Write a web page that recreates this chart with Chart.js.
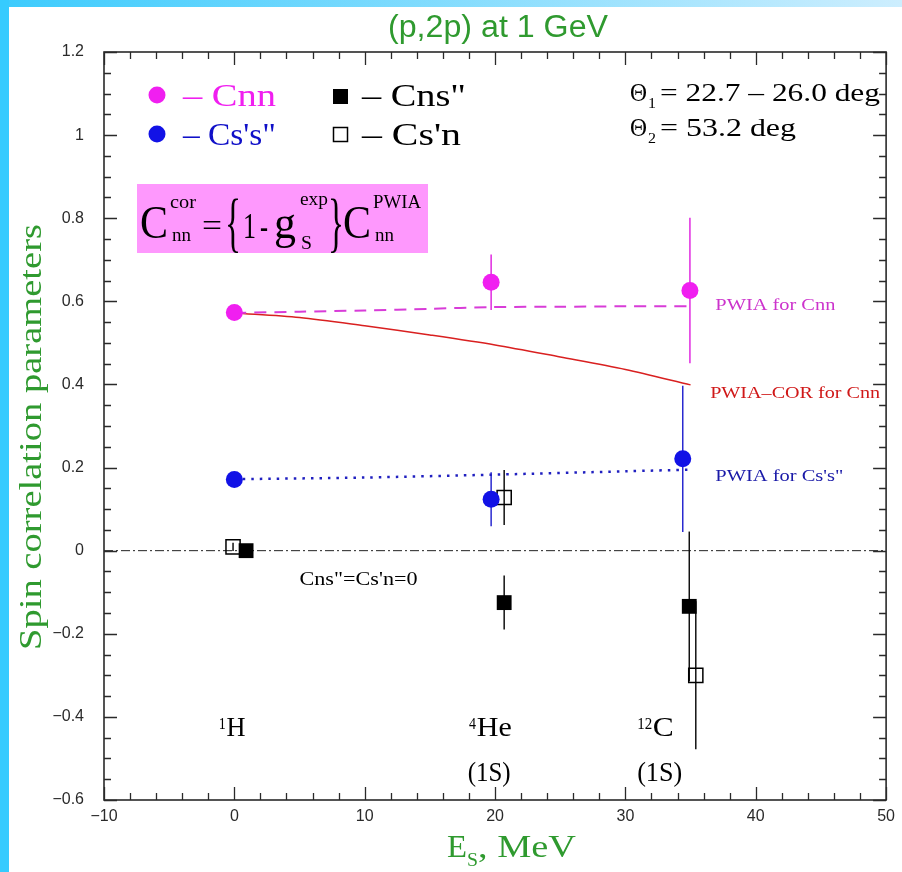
<!DOCTYPE html>
<html>
<head>
<meta charset="utf-8">
<title>(p,2p) at 1 GeV</title>
<script src="https://cdn.jsdelivr.net/npm/chart.js@4.4.0/dist/chart.umd.min.js"></script>
<style>
  html, body { margin: 0; padding: 0; background: #fff; }
  canvas { display: block; }
</style>
</head>
<body>
<canvas id="spinChart" width="902" height="872"></canvas>
<script>
// measured spin correlation parameters (x = separation energy, MeV)
const cnnX = [0, 19.7, 34.95];
const cnnY = [0.573, 0.646, 0.626];
const cnnErr = [0, 0.067, 0.175];

const cssX = [0, 19.7, 34.4];
const cssY = [0.171, 0.124, 0.221];
const cssErr = [0, 0.065, 0.176];

const cnsX = [0.9, 20.7, 34.9];
const cnsY = [0.0, -0.125, -0.134];
const cnsErr = [0, 0.065, 0.18];

const csnX = [-0.1, 20.7, 35.4];
const csnY = [0.009, 0.128, -0.300];
const csnErr = [0.01, 0.066, 0.178];

// PWIA curves
const pwiaCnnX = [0, 5, 10, 15, 19.7, 25, 30, 35];
const pwiaCnnY = [0.572, 0.575, 0.578, 0.582, 0.586, 0.587, 0.588, 0.588];
const corCnnX = [0, 5, 10, 15, 20, 25, 30, 35];
const corCnnY = [0.572, 0.561, 0.541, 0.519, 0.495, 0.466, 0.436, 0.399];
const pwiaCssX = [0, 10, 20, 30, 35];
const pwiaCssY = [0.172, 0.176, 0.183, 0.191, 0.195];

const xTicks = [-10, 0, 10, 20, 30, 40, 50];
const yTicks = [-0.6, -0.4, -0.2, 0, 0.2, 0.4, 0.6, 0.8, 1, 1.2];

const pts = (xs, ys) => xs.map((x, i) => ({ x: x, y: ys[i] }));

const SERIF = '"Liberation Serif", "Times New Roman", serif';
const SANS = '"Liberation Sans", Arial, sans-serif';
const GREEN = '#2f9a2f';
const MAGENTA = '#f01ff0';
const BLUE = '#1212e6';

function fmt(v) {
  const r = Math.round(v * 10) / 10;
  return String(r).replace('-', '\u2212');
}

// text helper; w stretches the string to a given width
function txt(ctx, s, x, y, size, color, opt) {
  opt = opt || {};
  ctx.save();
  ctx.font = (opt.weight || '') + ' ' + size + 'px ' + (opt.family || SERIF);
  ctx.fillStyle = color;
  ctx.textAlign = 'left';
  ctx.textBaseline = 'alphabetic';
  ctx.translate(x, y);
  if (opt.rot) ctx.rotate(opt.rot);
  const m = ctx.measureText(s).width;
  const sx = opt.w ? opt.w / m : 1;
  ctx.scale(sx, 1);
  ctx.fillText(s, 0, 0);
  ctx.restore();
}

const errorSets = { 3: cnnErr, 4: cssErr, 5: cnsErr, 6: csnErr };

const framePlugin = {
  id: 'frame',
  beforeDraw(chart) {
    const ctx = chart.ctx;
    ctx.save();
    ctx.fillStyle = '#ffffff';
    ctx.fillRect(0, 0, chart.width, chart.height);
    const g = ctx.createLinearGradient(0, 0, chart.width, 0);
    g.addColorStop(0, '#3ccbfd');
    g.addColorStop(1, '#cdeefe');
    ctx.fillStyle = g;
    ctx.fillRect(0, 0, chart.width, 7);
    ctx.fillStyle = '#36cbfe';
    ctx.fillRect(0, 0, 9, chart.height);
    ctx.restore();
  },
  beforeDatasetsDraw(chart) {
    const ctx = chart.ctx;
    const xs = chart.scales.x, ys = chart.scales.y;
    const a = chart.chartArea;
    ctx.save();
    // zero line
    ctx.strokeStyle = '#222';
    ctx.lineWidth = 1;
    ctx.setLineDash([9, 3, 2, 3]);
    const y0 = ys.getPixelForValue(0);
    ctx.beginPath();
    ctx.moveTo(a.left, y0);
    ctx.lineTo(a.right, y0);
    ctx.stroke();
    ctx.setLineDash([]);
    // error bars
    Object.keys(errorSets).forEach(k => {
      const ds = chart.data.datasets[k];
      const err = errorSets[k];
      ctx.strokeStyle = ds.errorColor;
      ctx.lineWidth = 1.5;
      ds.data.forEach((p, i) => {
        if (!err[i]) return;
        const px = xs.getPixelForValue(p.x);
        ctx.beginPath();
        ctx.moveTo(px, ys.getPixelForValue(p.y + err[i]));
        ctx.lineTo(px, ys.getPixelForValue(p.y - err[i]));
        ctx.stroke();
      });
    });
    ctx.restore();
  },
  afterDraw(chart) {
    const ctx = chart.ctx;
    const xs = chart.scales.x, ys = chart.scales.y;
    const a = chart.chartArea;
    ctx.save();
    ctx.strokeStyle = '#2a2a2a';
    ctx.lineWidth = 1.6;
    ctx.strokeRect(a.left, a.top, a.right - a.left, a.bottom - a.top);
    ctx.lineWidth = 1.3;
    ctx.beginPath();
    // inward ticks on all four sides
    for (let v = -10; v <= 50.001; v += 2) {
      const px = Math.round(xs.getPixelForValue(v)) + 0.5;
      const len = Math.abs(v % 10) < 0.01 ? 13 : 7;
      ctx.moveTo(px, a.bottom); ctx.lineTo(px, a.bottom - len);
      ctx.moveTo(px, a.top); ctx.lineTo(px, a.top + len);
    }
    for (let i = 0; i <= 36; i++) {
      const v = -0.6 + i * 0.05;
      const py = Math.round(ys.getPixelForValue(v)) + 0.5;
      const len = i % 4 === 0 ? 13 : 7;
      ctx.moveTo(a.left, py); ctx.lineTo(a.left + len, py);
      ctx.moveTo(a.right, py); ctx.lineTo(a.right - len, py);
    }
    ctx.stroke();
    ctx.restore();

    const X = v => xs.getPixelForValue(v);
    const Y = v => ys.getPixelForValue(v);

    // title and axis titles
    txt(ctx, '(p,2p) at 1 GeV', 388, 37, 31, GREEN, { family: SANS, w: 220 });
    txt(ctx, 'Spin correlation parameters', 41, 650, 31, GREEN, { rot: -Math.PI / 2, w: 426 });
    txt(ctx, 'E', 447, 857, 31, GREEN, { w: 20 });
    txt(ctx, 'S', 467, 866, 19, GREEN, { w: 11 });
    txt(ctx, ', MeV', 478, 857, 31, GREEN, { w: 98 });

    // legend
    ctx.save();
    ctx.fillStyle = MAGENTA;
    ctx.beginPath(); ctx.arc(157, 95, 8.5, 0, Math.PI * 2); ctx.fill();
    ctx.fillStyle = BLUE;
    ctx.beginPath(); ctx.arc(157, 134, 8.5, 0, Math.PI * 2); ctx.fill();
    ctx.fillStyle = '#000';
    ctx.fillRect(333, 89, 15, 15);
    ctx.strokeStyle = '#000';
    ctx.lineWidth = 1.5;
    ctx.strokeRect(333.5, 127.5, 14, 14);
    ctx.restore();
    txt(ctx, '\u2013 Cnn', 183, 106, 31, MAGENTA, { w: 93 });
    txt(ctx, '\u2013 Cs\'s"', 183, 145, 31, '#1010c8', { w: 93 });
    txt(ctx, '\u2013 Cns"', 362, 106, 31, '#000', { w: 104 });
    txt(ctx, '\u2013 Cs\'n', 362, 145, 31, '#000', { w: 99 });

    // angles
    txt(ctx, '\u0398', 630, 101, 25, '#000', { w: 17 });
    txt(ctx, '1', 648, 108, 15, '#000', { w: 8 });
    txt(ctx, '= 22.7 \u2013 26.0 deg', 660, 101, 25, '#000', { w: 220 });
    txt(ctx, '\u0398', 630, 136, 25, '#000', { w: 17 });
    txt(ctx, '2', 648, 143, 15, '#000', { w: 8 });
    txt(ctx, '= 53.2 deg', 660, 136, 25, '#000', { w: 136 });

    // correction formula
    ctx.save();
    ctx.fillStyle = '#fe98fd';
    ctx.fillRect(137, 184, 291, 69);
    ctx.restore();
    txt(ctx, 'C', 140, 238, 46, '#000', { w: 28 });
    txt(ctx, 'cor', 170, 208, 18, '#000', { w: 26 });
    txt(ctx, 'nn', 172, 241, 18, '#000', { w: 19 });
    txt(ctx, '=', 202, 236, 32, '#000', { w: 20 });
    txt(ctx, '{', 225, 244, 66, '#000', { w: 16 });
    txt(ctx, '1', 243, 238, 36, '#000', { w: 13 });
    txt(ctx, '-', 260, 238, 36, '#000', { w: 8 });
    txt(ctx, 'g', 274, 238, 46, '#000', { w: 22 });
    txt(ctx, 'exp', 300, 205, 18, '#000', { w: 28 });
    txt(ctx, 'S', 301, 249, 18, '#000', { w: 11 });
    txt(ctx, '}', 328, 244, 66, '#000', { w: 16 });
    txt(ctx, 'C', 343, 238, 46, '#000', { w: 28 });
    txt(ctx, 'PWIA', 373, 208, 18, '#000', { w: 48 });
    txt(ctx, 'nn', 375, 241, 18, '#000', { w: 19 });

    // curve labels
    txt(ctx, 'PWIA for Cnn', X(36.9), Y(0.578), 16, '#cc33cc', { w: 120 });
    txt(ctx, 'PWIA\u2013COR for Cnn', X(36.5), Y(0.368), 16, '#d01818', { w: 170 });
    txt(ctx, 'PWIA for Cs\'s"', X(36.9), Y(0.168), 16, '#1a1aa8', { w: 128 });
    txt(ctx, 'Cns"=Cs\'n=0', X(5.0), Y(-0.082), 19, '#000', { w: 118 });

    // nuclei
    txt(ctx, '1', X(-1.2), Y(-0.430), 17, '#000', { w: 7 });
    txt(ctx, 'H', X(-0.6), Y(-0.445), 28, '#000', { w: 19 });
    txt(ctx, '4', X(18.0), Y(-0.430), 17, '#000', { w: 7 });
    txt(ctx, 'He', X(18.6), Y(-0.445), 28, '#000', { w: 35 });
    txt(ctx, '(1S)', X(17.9), Y(-0.555), 27, '#000', { w: 43 });
    txt(ctx, '12', X(30.9), Y(-0.430), 17, '#000', { w: 15 });
    txt(ctx, 'C', X(32.1), Y(-0.445), 28, '#000', { w: 21 });
    txt(ctx, '(1S)', X(30.9), Y(-0.555), 27, '#000', { w: 45 });
  }
};

const config = {
  type: 'scatter',
  data: {
    datasets: [
      {
        label: 'PWIA for Cnn', data: pts(pwiaCnnX, pwiaCnnY), showLine: true,
        borderColor: '#d83cd8', borderWidth: 2, borderDash: [12, 8],
        pointRadius: 0, tension: 0.3, order: 5
      },
      {
        label: 'PWIA-COR for Cnn', data: pts(corCnnX, corCnnY), showLine: true,
        borderColor: '#d92020', borderWidth: 1.5,
        pointRadius: 0, tension: 0.3, order: 5
      },
      {
        label: 'PWIA for Cs\'s"', data: pts(pwiaCssX, pwiaCssY), showLine: true,
        borderColor: '#2020c0', borderWidth: 2.5, borderDash: [2.5, 6],
        pointRadius: 0, tension: 0.3, order: 5
      },
      {
        label: 'Cnn', data: pts(cnnX, cnnY), errorColor: '#e02ae0',
        pointStyle: 'circle', pointRadius: 8.5, backgroundColor: MAGENTA,
        borderColor: MAGENTA, borderWidth: 0, order: 1
      },
      {
        label: 'Cs\'s"', data: pts(cssX, cssY), errorColor: '#2a2ad0',
        pointStyle: 'circle', pointRadius: 8.5, backgroundColor: BLUE,
        borderColor: BLUE, borderWidth: 0, order: 1
      },
      {
        label: 'Cns"', data: pts(cnsX, cnsY), errorColor: '#111',
        pointStyle: 'rect', pointRadius: 10.5, backgroundColor: '#000',
        borderColor: '#000', borderWidth: 0, order: 1
      },
      {
        label: 'Cs\'n', data: pts(csnX, csnY), errorColor: '#111',
        pointStyle: 'rect', pointRadius: 10, backgroundColor: 'rgba(255,255,255,0)',
        borderColor: '#000', borderWidth: 1.5, order: 2
      }
    ]
  },
  options: {
    responsive: false,
    animation: false,
    layout: { padding: { left: 0, right: 7, top: 52, bottom: 0 } },
    plugins: { legend: { display: false }, tooltip: { enabled: false }, title: { display: false } },
    scales: {
      x: {
        type: 'linear', min: -10, max: 50,
        afterBuildTicks: s => { s.ticks = xTicks.map(v => ({ value: v })); },
        grid: { display: false, drawTicks: false },
        border: { display: false },
        ticks: { padding: 7, color: '#2a2a2a', font: { family: SANS, size: 16 }, callback: v => fmt(v), maxRotation: 0 },
        afterFit: s => { s.height = 72; }
      },
      y: {
        type: 'linear', min: -0.6, max: 1.2,
        afterBuildTicks: s => { s.ticks = yTicks.map(v => ({ value: v })); },
        grid: { display: false, drawTicks: false },
        border: { display: false },
        ticks: { padding: 20, color: '#2a2a2a', font: { family: SANS, size: 16 }, callback: v => fmt(v) },
        afterFit: s => { s.width = 104; }
      }
    }
  },
  plugins: [framePlugin]
};

new Chart(document.getElementById('spinChart').getContext('2d'), config);
</script>
</body>
</html>
